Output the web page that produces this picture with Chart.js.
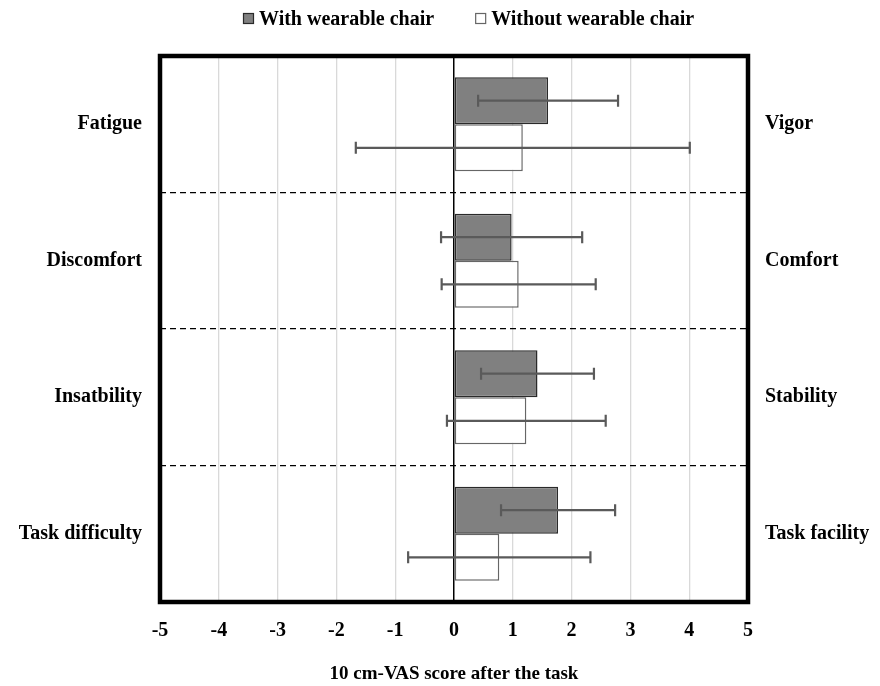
<!DOCTYPE html>
<html>
<head>
<meta charset="utf-8">
<script src="https://cdn.jsdelivr.net/npm/chart.js@4"></script>
<style>
  body { margin: 0; background: #fff; }
  canvas { display: block; }
</style>
</head>
<body>
<canvas id="vasChart" width="880" height="686"></canvas>
<script>
(function(){

// labels: left side (negative anchor) and right side (positive anchor)
const labelsLeft = ["Fatigue", "Discomfort", "Insatbility", "Task difficulty"];
const labelsRight = ["Vigor", "Comfort", "Stability", "Task facility"];

// mean scores and SD
const withChair = [1.60, 0.98, 1.42, 1.77];
const sdWith = [1.19, 1.20, 0.96, 0.97];
const withoutChair = [1.17, 1.10, 1.23, 0.77];
const sdWithout = [2.84, 1.31, 1.35, 1.55];

const xTicks = [-5, -4, -3, -2, -1, 0, 1, 2, 3, 4, 5];

const FONT = "'Liberation Serif', 'Times New Roman', serif";

//----error bars drawn from the x scale
const errorBars = {
    id: "errorBars",
    afterDatasetsDraw(chart){
        const c = chart.ctx;
        const xs = chart.scales.x;
        const sds = [sdWith, sdWithout];
        c.save();
        c.strokeStyle = "#5a5a5a";
        c.lineWidth = 2.2;
        chart.data.datasets.forEach((ds, di) => {
            chart.getDatasetMeta(di).data.forEach((bar, i) => {
                const lo = xs.getPixelForValue(ds.data[i] - sds[di][i]);
                const hi = xs.getPixelForValue(ds.data[i] + sds[di][i]);
                const y = bar.y;
                c.beginPath();
                c.moveTo(lo, y); c.lineTo(hi, y);
                c.moveTo(lo, y - 6); c.lineTo(lo, y + 6);
                c.moveTo(hi, y - 6); c.lineTo(hi, y + 6);
                c.stroke();
            });
        });
        c.restore();
    }
};

//----thick frame + legend on top
const frameLegend = {
    id: "frameLegend",
    afterDraw(chart){
        const c = chart.ctx;
        const a = chart.chartArea;
        c.save();
        c.strokeStyle = "#000";
        c.lineWidth = 4.5;
        c.strokeRect(a.left, a.top, a.right - a.left, a.bottom - a.top);

        c.font = "bold 20px " + FONT;
        c.textBaseline = "middle";
        c.textAlign = "left";
        let x = 243;
        chart.data.datasets.forEach(ds => {
            c.fillStyle = ds.backgroundColor;
            c.fillRect(x, 13, 11, 11);
            c.strokeStyle = ds.borderColor;
            c.lineWidth = 1.2;
            c.strokeRect(x + 0.5, 13.5, 10, 10);
            c.fillStyle = "#000";
            c.fillText(ds.label, x + 16, 19.5);
            x += 16 + c.measureText(ds.label).width + 41;
        });
        c.restore();
    }
};

const ctx = document.querySelector("#vasChart");

new Chart(ctx, {
    type: "bar",
    data: {
        labels: labelsLeft,
        datasets: [{
            label: "With wearable chair",
            data: withChair,
            backgroundColor: "#808080",
            borderColor: "#2a2a2a",
            borderWidth: 1.5,
            borderSkipped: false
        }, {
            label: "Without wearable chair",
            data: withoutChair,
            backgroundColor: "#ffffff",
            borderColor: "#666666",
            borderWidth: 1.5,
            borderSkipped: false
        }]
    },
    options: {
        indexAxis: "y",
        responsive: false,
        animation: false,
        categoryPercentage: 0.69,
        barPercentage: 1.0,
        layout: { padding: { top: 56, left: 0, right: 0, bottom: 0 } },
        plugins: {
            legend: { display: false },
            tooltip: { enabled: false }
        },
        scales: {
            x: {
                min: -5,
                max: 5,
                afterBuildTicks: (scale) => { scale.ticks = xTicks.map(v => ({ value: v })); },
                afterFit: (scale) => { scale.height = 84; },
                border: { display: false },
                grid: {
                    drawTicks: false,
                    color: (c) => c.tick && c.tick.value === 0 ? "#000000" : "#d9d9d9",
                    lineWidth: (c) => c.tick && c.tick.value === 0 ? 1.5 : 1.3
                },
                ticks: {
                    padding: 17,
                    color: "#000",
                    font: { family: FONT, size: 20, weight: "bold" }
                },
                title: {
                    display: true,
                    text: "10 cm-VAS score after the task",
                    color: "#000",
                    padding: { top: 0, bottom: 1 },
                    font: { family: FONT, size: 19, weight: "bold" }
                }
            },
            y: {
                offset: true,
                afterFit: (scale) => { scale.width = 160; },
                border: { display: false, dash: [6, 4] },
                grid: {
                    offset: true,
                    drawTicks: false,
                    color: "#000",
                    lineWidth: 1.3
                },
                ticks: {
                    padding: 18,
                    color: "#000",
                    font: { family: FONT, size: 20, weight: "bold" }
                }
            },
            y2: {
                type: "category",
                labels: labelsRight,
                position: "right",
                offset: true,
                afterFit: (scale) => { scale.width = 132; },
                border: { display: false },
                grid: { display: false, drawTicks: false },
                ticks: {
                    padding: 17,
                    color: "#000",
                    font: { family: FONT, size: 20, weight: "bold" }
                }
            }
        }
    },
    plugins: [errorBars, frameLegend]
});

})();
</script>
</body>
</html>
